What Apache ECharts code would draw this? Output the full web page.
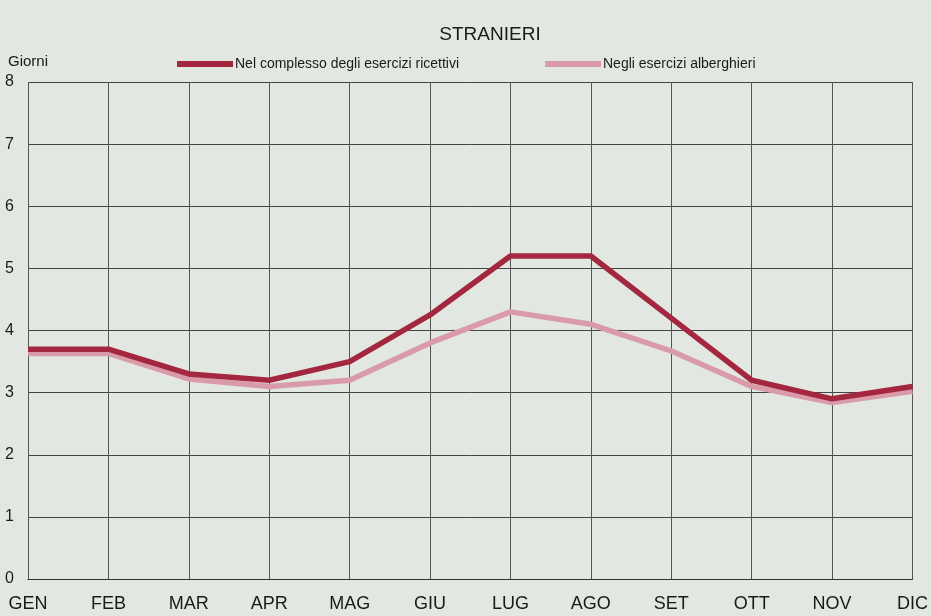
<!DOCTYPE html>
<html>
<head>
<meta charset="utf-8">
<script src="https://cdn.jsdelivr.net/npm/echarts@6/dist/echarts.min.js"></script>
<style>
  html, body { margin: 0; padding: 0; background: #e3e7e1; }
  #chart { width: 931px; height: 616px; }
</style>
</head>
<body>
<div id="chart"></div>
<script>
// dati
const mesi = ['GEN', 'FEB', 'MAR', 'APR', 'MAG', 'GIU', 'LUG', 'AGO', 'SET', 'OTT', 'NOV', 'DIC'];
const complesso = [3.7, 3.7, 3.3, 3.2, 3.5, 4.25, 5.2, 5.2, 4.2, 3.2, 2.9, 3.1];
const alberghieri = [3.63, 3.63, 3.22, 3.1, 3.2, 3.8, 4.3, 4.1, 3.67, 3.1, 2.84, 3.02];
const nomi = ['Nel complesso degli esercizi ricettivi', 'Negli esercizi alberghieri'];

const font = 'Liberation Sans Narrow, Liberation Sans, Arial, sans-serif';
const rosso = '#a3283f';
const rosa = '#d99aa9';

var chart = echarts.init(document.getElementById('chart'));

chart.setOption({
    backgroundColor: '#e3e7e1',
    animation: false,
    title: {
        text: 'STRANIERI',
        left: 485, top: 20, textAlign: 'center',
        textStyle: { fontFamily: font, fontSize: 19, fontWeight: 'normal', color: '#1a1a1a' }
    },
    // due legende separate per posizionarle come nell'originale
    legend: [
        {
            data: [{ name: nomi[0], icon: 'rect' }],
            left: 172, top: 52,
            itemWidth: 56, itemHeight: 6,
            textStyle: { fontFamily: 'Liberation Sans, Arial', fontSize: 14, color: '#1a1a1a', padding: [0, 0, 0, -3] }
        },
        {
            data: [{ name: nomi[1], icon: 'rect' }],
            left: 540, top: 52,
            itemWidth: 56, itemHeight: 6,
            textStyle: { fontFamily: 'Liberation Sans, Arial', fontSize: 14, color: '#1a1a1a', padding: [0, 0, 0, -3] }
        }
    ],
    grid: { left: 28, right: 16, top: 82, bottom: 37 },
    xAxis: {
        type: 'category',
        data: mesi,
        boundaryGap: false,
        axisLine: { lineStyle: { color: '#333', width: 1.2 } },
        axisTick: { show: false },
        axisLabel: { fontFamily: font, fontSize: 18, color: '#1a1a1a', margin: 16 },
        splitLine: { show: true, lineStyle: { color: '#555', width: 1 } }
    },
    yAxis: {
        type: 'value',
        name: 'Giorni',
        nameLocation: 'end',
        nameGap: 13,
        nameTextStyle: { fontFamily: font, fontSize: 15, color: '#1a1a1a', align: 'left', padding: [0, 0, 0, -20] },
        min: 0, max: 8, interval: 1,
        axisLine: { show: false },
        axisTick: { show: false },
        axisLabel: { fontFamily: font, fontSize: 16, color: '#1a1a1a', margin: 14 },
        splitLine: { show: true, lineStyle: { color: '#444', width: 1 } }
    },
    series: [
        {
            name: nomi[1],
            type: 'line',
            data: alberghieri,
            symbol: 'none',
            color: rosa,
            lineStyle: { color: rosa, width: 5.5 },
            z: 3
        },
        {
            name: nomi[0],
            type: 'line',
            data: complesso,
            symbol: 'none',
            color: rosso,
            lineStyle: { color: rosso, width: 5.5 },
            z: 4
        }
    ]
});
</script>
</body>
</html>
